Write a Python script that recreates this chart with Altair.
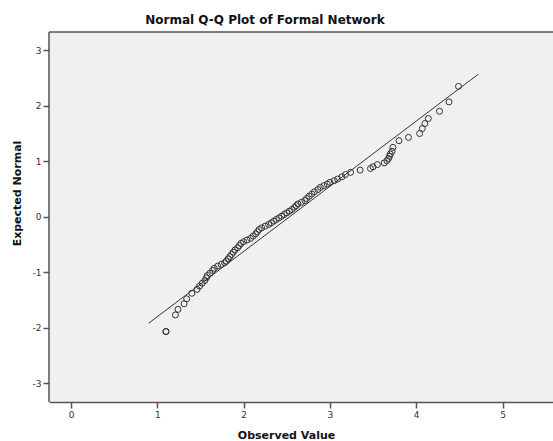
import altair as alt
import pandas as pd

# Observed values of Formal Network and their expected normal scores
observed = [
    1.10, 1.10, 1.21, 1.24, 1.31, 1.34, 1.40, 1.46, 1.49, 1.52, 1.55, 1.57,
    1.58, 1.61, 1.64, 1.66, 1.70, 1.74, 1.78, 1.80, 1.82, 1.84, 1.86, 1.88,
    1.90, 1.93, 1.95, 1.97, 2.00, 2.04, 2.08, 2.11, 2.14, 2.16, 2.18, 2.21,
    2.25, 2.29, 2.32, 2.35, 2.38, 2.41, 2.44, 2.47, 2.50, 2.53, 2.56, 2.59,
    2.61, 2.63, 2.67, 2.71, 2.73, 2.76, 2.79, 2.82, 2.86, 2.89, 2.93, 2.97,
    3.00, 3.05, 3.09, 3.14, 3.18, 3.24, 3.35, 3.47, 3.50, 3.55, 3.63, 3.66,
    3.68, 3.69, 3.70, 3.72, 3.73, 3.80, 3.91, 4.04, 4.07, 4.10, 4.14, 4.27,
    4.38, 4.49,
]
expected = [
    -2.07, -2.07, -1.77, -1.67, -1.57, -1.48, -1.38, -1.31, -1.25, -1.20, -1.15, -1.10,
    -1.06, -1.02, -0.97, -0.93, -0.89, -0.86, -0.83, -0.80, -0.76, -0.72, -0.68, -0.64,
    -0.60, -0.56, -0.52, -0.48, -0.45, -0.42, -0.39, -0.35, -0.31, -0.27, -0.23, -0.20,
    -0.17, -0.14, -0.11, -0.08, -0.05, -0.02, 0.01, 0.04, 0.07, 0.10, 0.13, 0.17,
    0.20, 0.23, 0.26, 0.29, 0.33, 0.37, 0.41, 0.45, 0.49, 0.53, 0.56, 0.59,
    0.62, 0.65, 0.68, 0.72, 0.76, 0.80, 0.84, 0.87, 0.90, 0.94, 0.97, 1.01,
    1.05, 1.09, 1.13, 1.18, 1.25, 1.37, 1.43, 1.50, 1.59, 1.68, 1.77, 1.90,
    2.07, 2.35,
]

# Reference line end points
line_x = [0.90, 4.72]
line_y = [-1.92, 2.57]

x_ticks = [0, 1, 2, 3, 4, 5]
y_ticks = [-3, -2, -1, 0, 1, 2, 3]

X_DOMAIN = [-0.255, 5.585]
Y_DOMAIN = [-3.34, 3.33]

points_df = pd.DataFrame({"observed": observed, "expected": expected})
line_df = pd.DataFrame({"observed": line_x, "expected": line_y})

FONT = "DejaVu Sans"
FRAME = "#555555"

x_scale = alt.Scale(domain=X_DOMAIN, nice=False, zero=False)
y_scale = alt.Scale(domain=Y_DOMAIN, nice=False, zero=False)

x_axis = alt.Axis(
    title="Observed Value",
    orient="bottom",
    values=x_ticks,
    labelExpr="'' + datum.value",
    grid=False,
    domain=True,
    domainColor=FRAME,
    domainWidth=1.5,
    tickSize=6,
    tickWidth=1.5,
    tickColor=FRAME,
    labelFontSize=9,
    labelColor="#333333",
    labelPadding=2,
    titleFontSize=11,
    titleFontWeight="bold",
    titleColor="#111111",
    titleX=237,
    titleY=36,
    titleBaseline="alphabetic",
    titleAlign="center",
)
y_axis = alt.Axis(
    title="Expected Normal",
    orient="left",
    values=y_ticks,
    labelExpr="'' + datum.value",
    grid=False,
    domain=False,
    tickSize=6,
    tickWidth=1.5,
    tickColor=FRAME,
    labelFontSize=9,
    labelColor="#333333",
    labelPadding=2,
    titleFontSize=11,
    titleFontWeight="bold",
    titleColor="#111111",
    titleX=-32,
    titleY=161,
    titleAngle=270,
    titleBaseline="middle",
    titleAlign="center",
)

x_enc = alt.X("observed:Q", scale=x_scale, axis=x_axis)
y_enc = alt.Y("expected:Q", scale=y_scale, axis=y_axis)

# Top and left edges of the plot frame
top_edge = alt.Chart(pd.DataFrame({"edge": [0]})).mark_rule(
    color=FRAME, strokeWidth=1.5
).encode(y=alt.value(0))
left_edge = alt.Chart(pd.DataFrame({"edge": [0]})).mark_rule(
    color=FRAME, strokeWidth=1.5
).encode(x=alt.value(0))

ref_line = alt.Chart(line_df).mark_line(color="#333333", strokeWidth=1).encode(
    x=x_enc, y=y_enc
)

points = alt.Chart(points_df).mark_point(
    shape="circle", filled=False, size=36, stroke="#333333", strokeWidth=1, opacity=1
).encode(x=x_enc, y=y_enc)

chart = (
    alt.layer(ref_line, points, top_edge, left_edge)
    .properties(
        width=504,
        height=370,
        autosize=alt.AutoSizeParams(type="none"),
        padding={"left": 49, "top": 32, "right": 0, "bottom": 39},
        background="#ffffff",
        view=alt.ViewBackground(fill="#f0f0f0", stroke="transparent", strokeWidth=0),
        title=alt.TitleParams(
            "Normal Q-Q Plot of Formal Network",
            fontSize=12,
            fontWeight="bold",
            font=FONT,
            color="#111111",
            anchor="middle",
            dx=-36,
            dy=12,
            offset=7,
            baseline="alphabetic",
        ),
    )
    .configure_view(fill="#f0f0f0", stroke="transparent", strokeWidth=0)
    .configure(font=FONT)
)

chart.save("out.html", embed_options={"renderer": "svg", "actions": False})
